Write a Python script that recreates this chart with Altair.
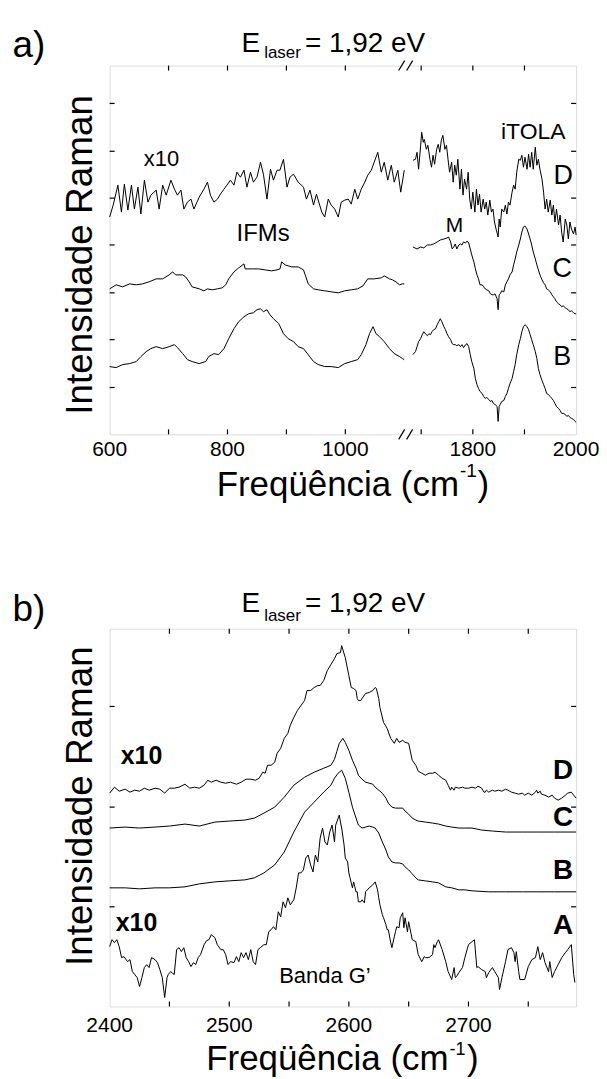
import altair as alt
import pandas as pd

# ================= PANEL a) data (frequency in cm-1, intensity in arbitrary units) =================
a_D_left_freq = [600, 606, 614, 620, 625, 631, 637, 642, 648, 653, 659, 665, 670, 679, 684, 690, 696, 704, 710, 715,
                 721, 726, 732, 738, 743, 752, 760, 766, 771, 777, 783, 788, 794, 799, 805, 811, 816, 822, 828, 833,
                 839, 844, 850, 856, 861, 867, 873, 878, 884, 889, 895, 901, 906, 912, 920, 929, 934, 940, 946, 951,
                 960, 965, 971, 976, 982, 988, 993, 999, 1005, 1010, 1016, 1021, 1027, 1033, 1038, 1044, 1049, 1055,
                 1061, 1066, 1072, 1078, 1083, 1089, 1094, 1100]
a_D_left_int = [218, 230, 250, 223, 251, 225, 250, 226, 248, 221, 255, 233, 240, 245, 226, 250, 240, 255, 246, 240,
                245, 226, 233, 236, 226, 238, 246, 253, 240, 233, 236, 241, 246, 250, 255, 250, 263, 258, 265, 248,
                263, 253, 258, 273, 261, 236, 266, 255, 265, 265, 276, 248, 258, 261, 253, 248, 236, 245, 230, 241,
                223, 218, 236, 230, 226, 218, 233, 235, 236, 231, 246, 236, 246, 253, 260, 265, 273, 283,
                263, 273, 255, 270, 253, 265, 243, 265]

a_C_left_freq = [600, 611, 622, 634, 645, 656, 667, 679, 690, 701, 707, 712, 724, 729, 735, 740, 752, 760, 766, 774,
                 783, 791, 797, 802, 811, 819, 828, 830, 842, 853, 864, 875, 884, 889, 892, 898, 909, 920, 929, 937,
                 946, 954, 965, 976, 988, 999, 1010, 1021, 1030, 1038, 1049, 1061, 1066, 1075, 1080, 1086, 1092,
                 1097, 1100]
a_C_left_int = [146, 150, 148, 151, 150, 151, 153, 156, 156, 160, 163, 160, 160, 158, 153, 148, 146, 144, 146, 145,
                146, 147, 150, 156, 163, 167, 171, 166, 166, 166, 165, 164, 165, 166, 173, 170, 168, 168, 165, 151,
                146, 145, 144, 143, 142, 144, 145, 146, 149, 156, 156, 157, 159, 156, 155, 153, 150,
                151, 151]

a_B_left_freq = [600, 611, 622, 634, 645, 653, 662, 670, 679, 690, 701, 710, 715, 724, 732, 740, 752, 763, 768, 777,
                 785, 794, 802, 811, 819, 828, 836, 844, 850, 856, 861, 867, 872, 878, 887, 895, 903, 912, 920, 929,
                 937, 946, 954, 965, 976, 988, 999, 1010, 1021, 1027, 1035, 1041, 1047, 1052, 1058, 1066, 1075,
                 1083, 1092, 1097, 1100]
a_B_left_int = [68, 67, 70, 71, 73, 78, 83, 86, 88, 86, 88, 90, 87, 81, 75, 73, 71, 73, 78, 81,
                80, 86, 96, 106, 113, 118, 121, 122, 125, 126, 123, 125, 120, 116, 111, 101, 96, 93, 88, 86,
                80, 73, 70, 68, 68, 67, 71, 73, 75, 80, 90, 101, 108, 101, 98, 93, 86,
                81, 78, 76, 75]

a_D_right_freq = [1684, 1689, 1692, 1695, 1699, 1701, 1704, 1706, 1710, 1713, 1717, 1720, 1723, 1726, 1730, 1733,
                  1736, 1739, 1742, 1746, 1749, 1752, 1755, 1759, 1762, 1765, 1768, 1771, 1775, 1778, 1781, 1784,
                  1788, 1791, 1794, 1797, 1800, 1804, 1807, 1810, 1813, 1816, 1820, 1823, 1826, 1829, 1833, 1836,
                  1839, 1842, 1845, 1849, 1851, 1853, 1856, 1860, 1863, 1866, 1869, 1872, 1876, 1879, 1882, 1885,
                  1889, 1892, 1895, 1898, 1901, 1905, 1908, 1911, 1914, 1917, 1921, 1924, 1927, 1930, 1934, 1937,
                  1940, 1943, 1946, 1950, 1953, 1956, 1959, 1962, 1966, 1969, 1972, 1975, 1979, 1982, 1985, 1988,
                  1991, 1995, 1998, 2000]
a_D_right_int = [275, 276, 283, 266, 290, 303, 293, 296, 286, 290, 276, 268, 280, 271, 286, 291,
                 283, 295, 300, 286, 290, 276, 263, 273, 253, 270, 260, 276, 246, 266, 240, 256,
                 246, 263, 236, 226, 243, 223, 246, 230, 241, 223, 236, 226, 233, 220, 235, 223,
                 226, 213, 206, 198, 216, 208, 226, 223, 230, 221, 233, 230, 243, 250, 246, 263,
                 276, 275, 280, 268, 278, 266, 281, 268, 283, 266, 288, 270, 276, 266, 256, 243,
                 226, 236, 223, 235, 220, 230, 213, 226, 210, 220, 203, 193, 216, 210, 196, 213,
                 206, 201, 208, 200]

a_C_right_freq = [1684, 1692, 1699, 1705, 1712, 1718, 1724, 1731, 1737, 1744, 1750, 1753, 1757, 1760, 1763, 1766,
                  1769, 1773, 1776, 1779, 1782, 1786, 1789, 1792, 1795, 1798, 1802, 1805, 1808, 1811, 1814, 1818,
                  1821, 1824, 1827, 1831, 1834, 1837, 1840, 1843, 1847, 1849, 1851, 1853, 1856, 1860, 1863, 1866,
                  1869, 1872, 1876, 1879, 1882, 1885, 1889, 1892, 1895, 1898, 1901, 1905, 1908, 1911, 1914, 1917,
                  1921, 1924, 1927, 1930, 1934, 1937, 1940, 1943, 1946, 1950, 1953, 1956, 1959, 1962, 1966, 1969,
                  1972, 1975, 1979, 1982, 1985, 1988, 1991, 1995, 1998, 2000]
a_C_right_int = [188, 186, 188, 187, 190, 190, 191, 193, 195, 196, 197, 198, 193, 186, 188, 191,
                 186, 190, 191, 190, 193, 192, 194, 192, 186, 180, 173, 166, 160, 156, 150, 150,
                 148, 146, 145, 144, 141, 140, 140, 141, 136, 125, 140, 141, 144, 143, 150, 153,
                 156, 160, 163, 170, 176, 183, 190, 196, 203, 208, 209, 206, 201, 196, 190, 183,
                 176, 170, 165, 160, 155, 152, 150, 146, 145, 143, 140, 138, 136, 133, 131, 130,
                 128, 129, 127, 126, 125, 123, 124, 122, 121, 121]

a_B_right_freq = [1684, 1689, 1692, 1695, 1699, 1702, 1705, 1708, 1712, 1715, 1718, 1721, 1724, 1728, 1731, 1734,
                  1737, 1740, 1744, 1747, 1750, 1753, 1757, 1760, 1763, 1766, 1769, 1773, 1776, 1779, 1782, 1786,
                  1789, 1792, 1795, 1798, 1802, 1805, 1808, 1811, 1814, 1818, 1821, 1824, 1827, 1831, 1834, 1837,
                  1840, 1843, 1847, 1849, 1851, 1853, 1856, 1860, 1863, 1866, 1869, 1872, 1876, 1879, 1882, 1885,
                  1889, 1892, 1895, 1898, 1901, 1905, 1908, 1911, 1914, 1917, 1921, 1924, 1927, 1930, 1934, 1937,
                  1940, 1943, 1946, 1950, 1953, 1956, 1959, 1962, 1966, 1969, 1972, 1975, 1979, 1982, 1985, 1988,
                  1991, 1995, 1998, 2000]
a_B_right_int = [80, 83, 88, 93, 96, 100, 103, 101, 99, 101, 100, 103, 105, 106, 110, 113,
                 116, 113, 108, 105, 101, 98, 95, 91, 90, 90, 89, 90, 88, 90, 87, 90,
                 91, 88, 80, 73, 66, 56, 50, 46, 43, 41, 38, 36, 37, 35, 33, 34,
                 31, 30, 28, 13, 28, 30, 33, 34, 38, 41, 46, 51, 56, 63, 70, 80,
                 90, 96, 103, 108, 110, 108, 105, 100, 95, 90, 83, 76, 66, 60, 54, 50,
                 46, 41, 40, 38, 36, 34, 31, 28, 26, 24, 21, 21, 20, 18, 19, 17,
                 16, 15, 13, 12]

# ================= PANEL b) data =================
b_D_freq = [2400, 2404, 2408, 2413, 2417, 2421, 2425, 2429, 2433, 2438, 2442, 2446, 2450, 2454, 2458, 2463, 2467,
            2471, 2475, 2479, 2482, 2485, 2489, 2493, 2497, 2501, 2506, 2510, 2514, 2518, 2522, 2525, 2528, 2530,
            2532, 2535, 2538, 2540, 2543, 2546, 2549, 2551, 2554, 2557, 2560, 2563, 2565, 2568, 2571, 2574, 2576,
            2579, 2582, 2585, 2588, 2590, 2593, 2594, 2597, 2600, 2602, 2604, 2606, 2607, 2608, 2610, 2611, 2614,
            2617, 2620, 2622, 2623, 2625, 2626, 2629, 2632, 2635, 2638, 2640, 2642, 2645, 2647, 2650, 2653, 2656,
            2658, 2661, 2664, 2667, 2670, 2672, 2675, 2678, 2681, 2683, 2685, 2686, 2688, 2689, 2692, 2695, 2697,
            2700, 2703, 2706, 2708, 2711, 2713, 2714, 2715, 2717, 2720, 2722, 2725, 2728, 2731, 2733, 2736, 2739,
            2742, 2745, 2747, 2750, 2753, 2756, 2757, 2758, 2760, 2761, 2764, 2767, 2770, 2772, 2775, 2778, 2781,
            2783, 2786, 2790]
b_D_int = [214, 220, 216, 218, 215, 217, 216, 219, 217, 219, 218, 214, 219, 219, 220, 223, 219,
           220, 219, 222, 227, 225, 227, 225, 224, 225, 223, 225, 228, 228, 227, 229, 235, 234,
           242, 242, 245, 254, 259, 269, 274, 282, 290, 297, 302, 307, 317, 317, 320, 322, 322,
           327, 337, 343, 349, 354, 355, 362, 350, 332, 320, 319, 317, 309, 307, 307, 309, 314,
           315, 317, 320, 319, 309, 300, 285, 279, 269, 264, 269, 265, 267, 265, 264, 247, 242,
           236, 234, 232, 234, 234, 235, 232, 229, 227, 222, 217, 220, 217, 220, 219, 220, 219,
           219, 220, 219, 221, 219, 215, 215, 217, 215, 217, 216, 217, 216, 218, 217, 215, 214,
           213, 214, 212, 214, 212, 215, 217, 214, 216, 213, 212, 210, 212, 209, 207, 209, 212,
           214, 215, 209]

b_C_freq = [2400, 2413, 2425, 2438, 2450, 2463, 2475, 2488, 2500, 2513, 2521, 2529, 2538, 2546, 2554, 2563, 2571,
            2579, 2585, 2588, 2590, 2592, 2595, 2597, 2600, 2603, 2606, 2608, 2611, 2614, 2617, 2620, 2622, 2625,
            2628, 2631, 2633, 2636, 2639, 2642, 2645, 2647, 2650, 2653, 2656, 2658, 2664, 2670, 2675, 2681, 2686,
            2692, 2697, 2703, 2711, 2720, 2731, 2745, 2758, 2772, 2790]
b_C_int = [179, 180, 179, 180, 181, 183, 181, 185, 186, 187, 189, 194, 200, 210, 222, 230, 235,
           239, 242, 248, 256, 264, 269, 265, 257, 247, 239, 232, 228, 225, 224, 223, 220, 217,
           214, 209, 204, 200, 199, 199, 199, 196, 193, 189, 187, 186, 185, 184, 183, 181, 180,
           179, 179, 179, 177, 176, 175, 175, 175, 175, 175]

b_B_freq = [2400, 2413, 2425, 2438, 2450, 2463, 2475, 2488, 2500, 2513, 2521, 2529, 2538, 2546, 2554, 2563, 2571,
            2579, 2585, 2588, 2591, 2594, 2597, 2600, 2603, 2606, 2608, 2611, 2614, 2617, 2620, 2622, 2625, 2628,
            2631, 2633, 2636, 2639, 2642, 2645, 2647, 2650, 2653, 2656, 2658, 2664, 2670, 2675, 2681, 2686, 2692,
            2697, 2703, 2717, 2731, 2745, 2758, 2772, 2790]
b_B_int = [119, 119, 118, 119, 119, 120, 123, 125, 126, 127, 129, 134, 142, 155, 175, 195, 205,
           215, 222, 229, 234, 237, 229, 215, 200, 189, 182, 179, 180, 181, 180, 179, 174, 165,
           157, 150, 145, 144, 144, 143, 140, 137, 133, 129, 127, 126, 125, 124, 120, 119, 117,
           117, 116, 115, 115, 115, 115, 115, 115]

b_A_freq = [2400, 2402, 2404, 2406, 2408, 2410, 2412, 2415, 2417, 2419, 2421, 2423, 2425, 2427, 2429, 2431, 2433,
            2435, 2438, 2440, 2442, 2444, 2446, 2448, 2449, 2451, 2454, 2456, 2458, 2460, 2462, 2464, 2466, 2468,
            2470, 2472, 2474, 2476, 2479, 2481, 2483, 2485, 2488, 2490, 2493, 2495, 2497, 2499, 2501, 2504, 2506,
            2508, 2510, 2512, 2514, 2516, 2518, 2520, 2522, 2524, 2526, 2529, 2531, 2533, 2535, 2537, 2539, 2541,
            2543, 2545, 2547, 2549, 2551, 2554, 2556, 2558, 2560, 2562, 2564, 2566, 2568, 2570, 2572, 2574, 2576,
            2578, 2580, 2582, 2584, 2586, 2588, 2589, 2592, 2593, 2594, 2596, 2597, 2599, 2600, 2601, 2603, 2604,
            2606, 2607, 2608, 2610, 2611, 2613, 2614, 2617, 2620, 2622, 2624, 2625, 2626, 2628, 2629, 2631, 2632,
            2633, 2635, 2636, 2638, 2639, 2640, 2642, 2643, 2645, 2646, 2647, 2649, 2650, 2651, 2653, 2656, 2658,
            2661, 2663, 2664, 2667, 2670, 2671, 2672, 2674, 2675, 2678, 2681, 2683, 2686, 2688, 2689, 2690, 2692,
            2695, 2697, 2700, 2703, 2705, 2707, 2708, 2711, 2714, 2715, 2717, 2720, 2722, 2725, 2726, 2728, 2731,
            2733, 2736, 2738, 2739, 2740, 2742, 2743, 2747, 2750, 2753, 2756, 2758, 2760, 2762, 2764, 2767, 2768,
            2770, 2772, 2775, 2778, 2781, 2783, 2786, 2788, 2789]
b_A_int = [60, 67, 64, 67, 60, 49, 50, 45, 47, 35, 32, 29, 20, 29, 39, 42, 39,
           49, 47, 44, 37, 29, 9, 29, 32, 35, 32, 57, 59, 55, 59, 49, 45, 40,
           44, 42, 49, 52, 62, 66, 67, 72, 69, 62, 57, 57, 52, 42, 45, 44, 50,
           45, 54, 49, 54, 47, 57, 45, 42, 57, 59, 62, 62, 75, 77, 80, 77, 95,
           90, 105, 99, 109, 102, 107, 119, 134, 134, 137, 149, 152, 142, 135, 152, 145, 169,
           179, 165, 162, 175, 182, 165, 182, 192, 185, 179, 162, 149, 145, 134, 129, 119, 125,
           115, 115, 105, 105, 107, 104, 115, 119, 122, 125, 117, 109, 102, 92, 89, 82, 77,
           77, 64, 59, 70, 75, 80, 79, 89, 94, 79, 89, 75, 85, 79, 67, 65, 52,
           45, 50, 49, 49, 52, 62, 59, 65, 67, 57, 45, 35, 27, 39, 29, 30, 34,
           39, 49, 62, 65, 67, 39, 40, 37, 35, 29, 34, 39, 35, 29, 17, 29, 45,
           57, 59, 54, 45, 55, 35, 27, 27, 40, 47, 49, 60, 47, 54, 44, 35, 45,
           29, 35, 42, 49, 54, 57, 62, 32, 24]

# ================= axis ticks / labels =================
a_xticks = [700, 800, 900, 1000, 1700, 1800, 1900]
a_xlabel_vals = [600, 800, 1000, 1800, 2000]
a_xlabels = ["600", "800", "1000", "1800", "2000"]
a_yticks = [47, 95, 142, 190, 237, 284, 332]

b_xticks = [2450, 2500, 2550, 2600, 2650, 2700, 2750]
b_xlabel_vals = [2400, 2500, 2600, 2700]
b_xlabels = ["2400", "2500", "2600", "2700"]
b_yticks = [100, 200, 301]

# ================= layout / style =================
FONT = "Liberation Sans"
W = 468
HA = 370
HB = 379
ONE = pd.DataFrame({"k": [0]})


def series_df(segments):
    rows = []
    for name, xs, ys in segments:
        assert len(xs) == len(ys), name
        rows += [{"freq": x, "inten": y, "trace": name} for x, y in zip(xs, ys)]
    return pd.DataFrame(rows)


def txt(text, x, y, size, weight="normal", align="center", baseline="middle", angle=0):
    return alt.Chart(ONE).mark_text(
        text=text, font=FONT, fontSize=size, fontWeight=weight, align=align,
        baseline=baseline, angle=angle, color="black"
    ).encode(x=alt.value(x), y=alt.value(y))


def seg(x1, y1, x2, y2, width=1.2):
    return alt.Chart(ONE).mark_rule(color="black", strokeWidth=width).encode(
        x=alt.value(x1), y=alt.value(y1), x2=alt.value(x2), y2=alt.value(y2))


def box(x1, y1, x2, y2, opacity=1.0):
    return alt.Chart(ONE).mark_rect(color="white", opacity=opacity).encode(
        x=alt.value(x1), y=alt.value(y1), x2=alt.value(x2), y2=alt.value(y2))


def frame_layers(xscale, yscale, H, xticks, yticks, lab_vals, labs, lab_dy):
    X = lambda: alt.X("freq:Q", scale=xscale, axis=None)
    Y = lambda: alt.Y("inten:Q", scale=yscale, axis=None)
    xt = pd.DataFrame({"freq": xticks})
    yt = pd.DataFrame({"inten": yticks})
    rule = dict(color="black", strokeWidth=1.2)
    layers = [
        alt.Chart(xt).mark_rule(**rule).encode(x=X(), y=alt.value(0), y2=alt.value(5)),
        alt.Chart(xt).mark_rule(**rule).encode(x=X(), y=alt.value(H - 5), y2=alt.value(H)),
        alt.Chart(yt).mark_rule(**rule).encode(y=Y(), x=alt.value(0), x2=alt.value(5)),
        alt.Chart(yt).mark_rule(**rule).encode(y=Y(), x=alt.value(W - 5), x2=alt.value(W)),
        alt.Chart(pd.DataFrame({"freq": lab_vals, "label": labs})).mark_text(
            font=FONT, fontSize=21, align="center", baseline="alphabetic", color="black"
        ).encode(x=X(), y=alt.value(H + lab_dy), text="label:N"),
    ]
    return layers


def elaser(y_base, sub_dy):
    return [
        txt("E", 151, y_base, 28, align="right", baseline="alphabetic"),
        txt("laser", 155, y_base + sub_dy, 17, align="left", baseline="alphabetic"),
        txt("= 1,92 eV", 196, y_base, 28, align="left", baseline="alphabetic"),
    ]


def xtitle(x1, y_base, sup_dy, sup_size):
    return [
        txt("Freqüência (cm", x1, y_base, 35, align="right", baseline="alphabetic"),
        txt("-1", x1 + 1, y_base - sup_dy, sup_size, align="left", baseline="alphabetic"),
        txt(")", x1 + 18.5, y_base, 35, align="left", baseline="alphabetic"),
    ]


# ---------------- panel a ----------------
xa = alt.Scale(domain=[600, 1100, 1680, 2000], range=[0, 295.6, 302.2, W], nice=False, zero=False)
ya = alt.Scale(domain=[0, HA], nice=False, zero=False)

dfa = series_df([
    ("D1", a_D_left_freq, a_D_left_int), ("D2", a_D_right_freq, a_D_right_int),
    ("C1", a_C_left_freq, a_C_left_int), ("C2", a_C_right_freq, a_C_right_int),
    ("B1", a_B_left_freq, a_B_left_int), ("B2", a_B_right_freq, a_B_right_int),
])

lines_a = alt.Chart(dfa).mark_line(color="black", strokeWidth=1.0).encode(
    x=alt.X("freq:Q", scale=xa, axis=None),
    y=alt.Y("inten:Q", scale=ya, axis=None),
    detail="trace:N",
)

brk = []
for yy in (0, HA):
    brk += [box(293.5, yy - 2.5, 300.5, yy + 2.5), seg(290, yy + 5, 296, yy - 5), seg(298, yy + 5, 304, yy - 5)]

panel_a = alt.layer(
    box(-109, -63.3, 498, 1015.7, opacity=0),
    lines_a,
    *frame_layers(xa, ya, HA, a_xticks, a_yticks, a_xlabel_vals, a_xlabels, 21.7),
    *brk,
    txt("x10", 52, 93.7, 22),
    txt("IFMs", 154, 168.7, 24),
    txt("iTOLA", 425, 66.7, 23),
    txt("M", 346, 160.7, 21),
    txt("D", 455, 110.7, 27),
    txt("C", 454, 203.7, 27),
    txt("B", 454, 292.7, 27),
    txt("a)", -97.4, -8.3, 37, align="left", baseline="alphabetic"),
    *elaser(-13.3, 6),
    txt("Intensidade Raman", -18, 190, 37, angle=270, baseline="alphabetic"),
    *xtitle(350.5, HA + 61.7, 19, 19),
).properties(width=W, height=HA)

# ---------------- panel b ----------------
xb = alt.Scale(domain=[2400, 2790], nice=False, zero=False)
yb = alt.Scale(domain=[0, HB], nice=False, zero=False)

dfb = series_df([
    ("D", b_D_freq, b_D_int), ("C", b_C_freq, b_C_int),
    ("B", b_B_freq, b_B_int), ("A", b_A_freq, b_A_int),
])

lines_b = alt.Chart(dfb).mark_line(color="black", strokeWidth=1.0).encode(
    x=alt.X("freq:Q", scale=xb, axis=None),
    y=alt.Y("inten:Q", scale=yb, axis=None),
    detail="trace:N",
)

panel_b = alt.layer(
    lines_b,
    *frame_layers(xb, yb, HB, b_xticks, b_yticks, b_xlabel_vals, b_xlabels, 26),
    txt("x10", 32, 127.7, 25, weight="bold"),
    txt("x10", 27, 295.7, 25, weight="bold"),
    txt("D", 455, 142.7, 28, weight="bold"),
    txt("C", 455, 189.7, 28, weight="bold"),
    txt("B", 455, 242.7, 28, weight="bold"),
    txt("A", 455, 298.7, 28, weight="bold"),
    txt("Banda G\u2019", 216, 348.7, 22),
    txt("b)", -97.4, -8, 37, align="left", baseline="alphabetic"),
    *elaser(-16.3, 9),
    txt("Intensidade Raman", -18, 178, 37, angle=270, baseline="alphabetic"),
    *xtitle(340, HB + 64, 15, 18),
).properties(width=W, height=HB)

chart = alt.vconcat(panel_a, panel_b, spacing=195, bounds="flush").properties(
    padding=0, background="white"
).configure_view(stroke="black", strokeWidth=1.5).configure(font=FONT)

chart.save("out.html", embed_options={"renderer": "svg", "actions": False})
